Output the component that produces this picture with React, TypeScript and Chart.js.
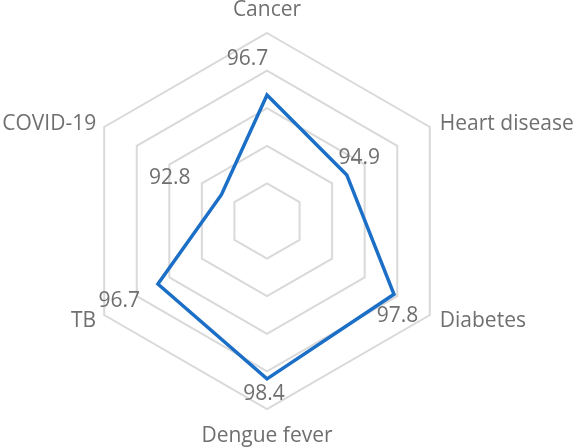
import React, { useEffect, useRef } from "react";
import { Chart, registerables } from "chart.js";

Chart.register(...registerables);

const categories = ["Cancer", "Heart disease", "Diabetes", "Dengue fever", "TB", "COVID-19"];
const values = [96.7, 94.9, 97.8, 98.4, 96.7, 92.8];
const valueLabels = ["96.7", "94.9", "97.8", "98.4", "96.7", "92.8"];
const scaleMin = 90;
const scaleMax = 100;
const scaleStep = 2;

// label placement offsets (style): value label centre relative to point
const valueOffsets = [
  [-19.5, -38],
  [12.5, -18.7],
  [3.5, 20],
  [-3, 14],
  [-38.7, 15.3],
  [-51.7, -17.7],
];
// category label placement relative to outer vertex: [dx, capsCenterDy, align]
const catOffsets: [number, number, CanvasTextAlign][] = [
  [0, -24.5, "center"],
  [10, -5, "left"],
  [10, 4, "left"],
  [0, 25, "center"],
  [-8, 4, "right"],
  [-8, -5, "right"],
];

const FONT = '21px "Open Sans"';
const TEXT_COLOR = "#6f6f6f";
const CAP_HALF = 7.5;

const labelPlugin = {
  id: "customLabels",
  afterDatasetsDraw(chart: any) {
    const ctx = chart.ctx;
    const scale = chart.scales.r;
    const meta = chart.getDatasetMeta(0);
    ctx.save();
    ctx.font = FONT;
    ctx.fillStyle = TEXT_COLOR;
    ctx.textBaseline = "alphabetic";
    meta.data.forEach((pt: any, i: number) => {
      const [dx, dy] = valueOffsets[i];
      ctx.textAlign = "center";
      ctx.fillText(valueLabels[i], pt.x + dx, pt.y + dy + CAP_HALF);
    });
    categories.forEach((c, i) => {
      const v = scale.getPointPosition(i, scale.drawingArea);
      const [dx, dy, align] = catOffsets[i];
      ctx.textAlign = align;
      ctx.fillText(c, v.x + dx, v.y + dy + CAP_HALF);
    });
    ctx.restore();
  },
};

export default function App() {
  const ref = useRef<HTMLCanvasElement>(null);
  useEffect(() => {
    if (!ref.current) return;
    const chart = new Chart(ref.current, {
      type: "radar",
      data: {
        labels: categories,
        datasets: [
          {
            data: values,
            borderColor: "#1c6fc6",
            borderWidth: 3.5,
            pointRadius: 0,
            fill: false,
            tension: 0,
          },
        ],
      },
      options: {
        responsive: false,
        animation: false,
        layout: { padding: { left: 79, right: 121, top: 33, bottom: 39 } },
        plugins: { legend: { display: false }, tooltip: { enabled: false } },
        scales: {
          r: {
            min: scaleMin,
            max: scaleMax,
            ticks: { stepSize: scaleStep, display: false },
            grid: { color: "#d9d9d9", lineWidth: 2 },
            angleLines: { display: false },
            pointLabels: { display: false },
          },
        },
      },
      plugins: [labelPlugin],
    });
    return () => chart.destroy();
  }, []);
  return (
    <div style={{ position: "absolute", left: 0, top: 0, width: 576, height: 448, background: "#fff" }}>
      <canvas ref={ref} width={576} height={448} style={{ display: "block" }} />
    </div>
  );
}
